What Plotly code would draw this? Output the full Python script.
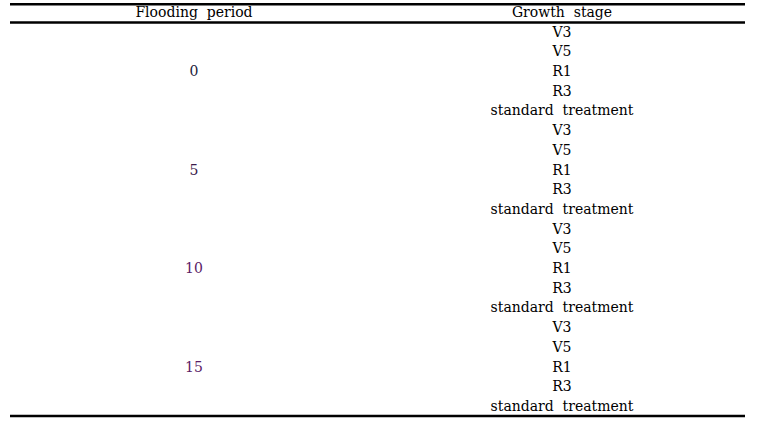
import plotly.graph_objects as go

# Table contents
headers = ["Flooding\u00a0 period", "Growth\u00a0 stage"]
flooding_periods = ["0", "5", "10", "15"]
growth_stages = ["V3", "V5", "R1", "R3", "standard\u00a0 treatment"]

period_colors = ["#1c1c3a", "#3a1a4a", "#5a1a66", "#5a1a66"]

col_x = [194, 562]          # column centres (x axis units = page pixels)
n_stages = len(growth_stages)
n_rows = len(flooding_periods) * n_stages

font = dict(family="DejaVu Serif", size=14, color="#000000")

fig = go.Figure()

# header row (row 0)
fig.add_trace(go.Scatter(
    x=col_x, y=[0, 0], mode="text", text=headers, cliponaxis=False,
    textfont=font, hoverinfo="skip", showlegend=False
))

# growth stage column (rows 1..20)
stage_rows = list(range(1, n_rows + 1))
stage_text = [growth_stages[i % n_stages] for i in range(n_rows)]
fig.add_trace(go.Scatter(
    x=[col_x[1]] * n_rows, y=stage_rows, mode="text", text=stage_text,
    cliponaxis=False, textfont=font, hoverinfo="skip", showlegend=False
))

# flooding period column, centred on each group of five
period_rows = [g * n_stages + (n_stages + 1) / 2 for g in range(len(flooding_periods))]
fig.add_trace(go.Scatter(
    x=[col_x[0]] * len(flooding_periods), y=period_rows, mode="text",
    text=flooding_periods, cliponaxis=False,
    textfont=dict(family="DejaVu Serif", size=14, color=period_colors),
    hoverinfo="skip", showlegend=False
))

# horizontal rules: top, under header, bottom
for yv in [-0.47, 0.46, n_rows + 0.44]:
    fig.add_shape(type="line", xref="x", yref="y", x0=10, x1=745, y0=yv, y1=yv,
                  line=dict(color="black", width=2.5))

fig.update_layout(
    width=770, height=437,
    margin=dict(l=0, r=0, t=0, b=0),
    paper_bgcolor="white", plot_bgcolor="white",
    xaxis=dict(range=[0, 770], visible=False, fixedrange=True),
    yaxis=dict(range=[21.5, -0.683], visible=False, fixedrange=True),
)

# drop the default 8px page margin so the figure fills the window
fig.write_html("out.html", config={"displayModeBar": False},
               post_script="document.body.style.margin='0px';")
